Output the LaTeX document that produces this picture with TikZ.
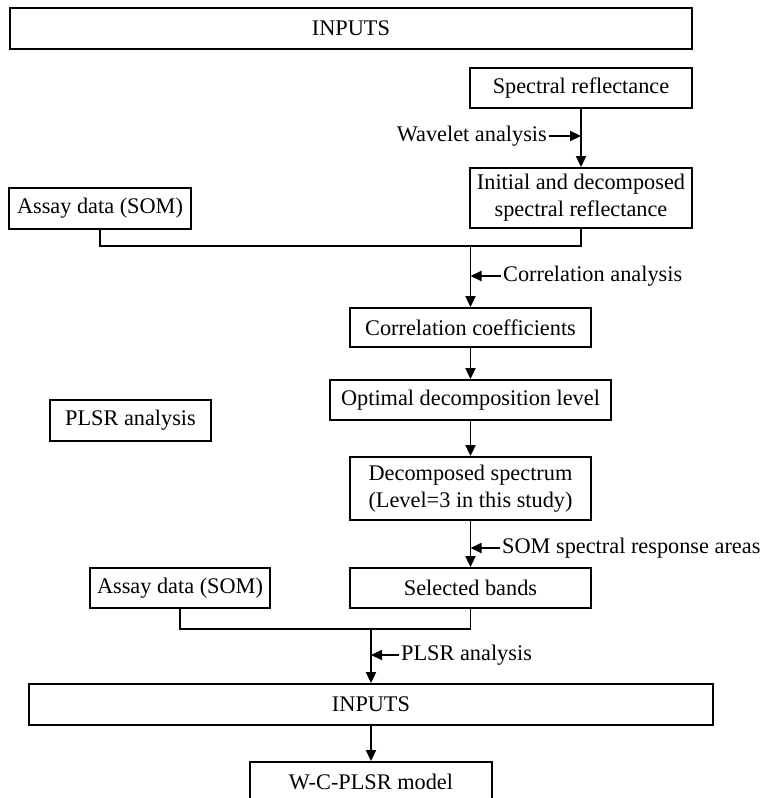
\documentclass[tikz,border=0pt]{standalone}
\usepackage{fontspec}
\setmainfont{Liberation Serif}
\usetikzlibrary{arrows.meta}
\begin{document}
\begin{tikzpicture}[x=1pt,y=1pt,
  every node/.style={font=\fontsize{22.3}{27}\selectfont},
  box/.style={draw,line width=1.8pt,inner sep=0pt,align=center},
  lab/.style={inner sep=2pt},
  conn/.style={line width=1.8pt},
  arr/.style={line width=1.8pt,-{Triangle[length=11pt,width=10pt]}}]
\useasboundingbox (0,0) rectangle (774,-798);
\node[box,minimum width=682,minimum height=41] (inputs1) at (351,-28.5) {INPUTS};
\node[box,minimum width=222,minimum height=40] (spec) at (581,-88) {Spectral reflectance};
\node[box,minimum width=222,minimum height=60] (init) at (581,-198) {Initial and decomposed\\spectral reflectance};
\node[box,minimum width=182,minimum height=41] (assay1) at (100,-208.5) {Assay data (SOM)};
\node[box,minimum width=241,minimum height=39] (corr) at (470.5,-327.5) {Correlation coefficients};
\node[box,minimum width=281,minimum height=40] (optim) at (470.5,-400) {Optimal decomposition level};
\node[box,minimum width=161,minimum height=41] (plsrbox) at (130.5,-420.5) {PLSR analysis};
\node[box,minimum width=241,minimum height=63] (decomp) at (470.5,-488.5) {Decomposed spectrum\\(Level=3 in this study)};
\node[box,minimum width=241,minimum height=40] (selected) at (470.5,-588) {Selected bands};
\node[box,minimum width=180,minimum height=40] (assay2) at (180,-588) {Assay data (SOM)};
\node[box,minimum width=684,minimum height=41] (inputs2) at (371,-704.5) {INPUTS};
\node[box,minimum width=242,minimum height=40] (wc) at (371,-782) {W-C-PLSR model};
% labels
\node[lab,anchor=east] (wlab) at (549,-136) {Wavelet analysis};
\node[lab,anchor=west] (clab) at (501,-276) {Correlation analysis};
\node[lab,anchor=west] (slab) at (500,-548) {SOM spectral response areas};
\node[lab,anchor=west] (plab) at (399,-655) {PLSR analysis};
% junctions
\coordinate (j1) at (470.5,-246);
\coordinate (j2) at (371,-629);
% connectors
\draw[arr] (spec.south) -- (init.north);
\draw[arr] (wlab.east) -- (spec.south |- wlab.east);
\draw[conn] (assay1.south) |- (init.south |- j1) -- (init.south);
\draw[arr] (j1) -- (corr.north);
\draw[arr] (clab.west) -- (j1 |- clab.west);
\draw[arr] (corr.south) -- (optim.north);
\draw[arr] (optim.south) -- (decomp.north);
\draw[arr] (decomp.south) -- (selected.north);
\draw[arr] (slab.west) -- (decomp.south |- slab.west);
\draw[conn] (assay2.south) |- (selected.south |- j2) -- (selected.south);
\draw[arr] (j2) -- (inputs2.north);
\draw[arr] (plab.west) -- (j2 |- plab.west);
\draw[arr] (inputs2.south) -- (wc.north);
\end{tikzpicture}
\end{document}
